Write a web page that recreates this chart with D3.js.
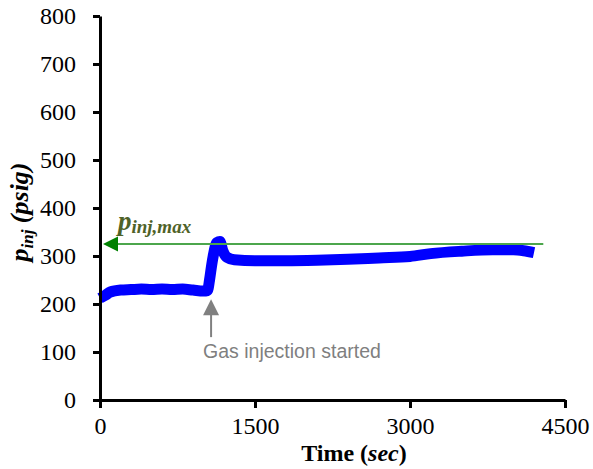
<!DOCTYPE html>
<html>
<head>
<meta charset="utf-8">
<script src="https://cdn.jsdelivr.net/npm/d3@7"></script>
<style>
  body { margin: 0; background: #fff; }
</style>
</head>
<body>
<script>
// injection pressure readings (time in sec, pressure in psig)
const timeSec = [0, 50, 100, 200, 300, 400, 500, 600, 700, 800, 900, 1000, 1040, 1060, 1080, 1100, 1130, 1160,
  1190, 1230, 1300, 1500, 1800, 2100, 2400, 2700, 3000, 3200, 3500, 3800, 4000, 4100, 4200];
const pInj = [212, 218, 225, 229, 230, 231, 230, 231, 230, 231, 229, 227, 228, 250, 280, 305, 328, 330,
  310, 297, 292, 290, 290, 291, 293, 296, 299, 305, 310, 313, 313, 311, 307];

const pInjMax = 325;
const maxLineEnd = 4290;
const gasStart = { t: 1075, top: 210, bottom: 131 };

const xTicks = [0, 1500, 3000, 4500];
const yTicks = [0, 100, 200, 300, 400, 500, 600, 700, 800];

const width = 593, height = 469;
const margin = { top: 16, left: 100, right: 28, bottom: 69 };
const serif = '"Liberation Serif", "Times New Roman", Times, serif';

const svg = d3.select("body").append("svg")
  .attr("width", width)
  .attr("height", height);

const x = d3.scaleLinear().domain([0, 4500]).range([margin.left, width - margin.right]);
const y = d3.scaleLinear().domain([0, 800]).range([height - margin.bottom, margin.top]);

// data line
const data = timeSec.map((t, i) => ({ t: t, p: pInj[i] }));
const line = d3.line().x(d => x(d.t)).y(d => y(d.p)).curve(d3.curveMonotoneX);

svg.append("path")
  .datum(data)
  .attr("d", line)
  .attr("fill", "none")
  .attr("stroke", "#0000ff")
  .attr("stroke-width", 11)
  .attr("stroke-linejoin", "round");

// p_inj,max line with arrow
svg.append("line")
  .attr("x1", x(0) + 10).attr("x2", x(maxLineEnd))
  .attr("y1", y(pInjMax)).attr("y2", y(pInjMax))
  .attr("stroke", "#4ca64c")
  .attr("stroke-width", 2);

svg.append("path")
  .attr("d", `M${x(0) + 3},${y(pInjMax)} l15,-7.5 l0,15 z`)
  .attr("fill", "#008000");

const maxLabel = svg.append("text")
  .attr("x", x(0) + 18)
  .attr("y", y(pInjMax) - 14)
  .style("font-family", serif)
  .style("fill", "#4f6228")
  .style("font-weight", "bold")
  .style("font-style", "italic");
maxLabel.append("tspan").style("font-size", "27px").text("p");
maxLabel.append("tspan").style("font-size", "19px").attr("dy", 3).text("inj,max");

// gas injection annotation
svg.append("line")
  .attr("x1", x(gasStart.t)).attr("x2", x(gasStart.t))
  .attr("y1", y(gasStart.top) + 12).attr("y2", y(gasStart.bottom))
  .attr("stroke", "#808080")
  .attr("stroke-width", 2);

svg.append("path")
  .attr("d", `M${x(gasStart.t)},${y(gasStart.top)} l-8,16 l16,0 z`)
  .attr("fill", "#808080");

svg.append("text")
  .attr("x", x(gasStart.t) - 8)
  .attr("y", y(gasStart.bottom) + 21)
  .style("fill", "#7f7f7f")
  .style("font-family", '"Liberation Sans", Arial, sans-serif')
  .style("font-size", "19.5px")
  .text("Gas injection started");

// axes
const xAxis = svg.append("g")
  .attr("transform", `translate(0,${y(0)})`)
  .call(d3.axisBottom(x).tickValues(xTicks).tickFormat(d3.format("d"))
    .tickSize(8).tickSizeOuter(0).tickPadding(9));

const yAxis = svg.append("g")
  .attr("transform", `translate(${x(0)},0)`)
  .call(d3.axisLeft(y).tickValues(yTicks).tickFormat(d3.format("d"))
    .tickSize(7).tickSizeOuter(0).tickPadding(17));

[xAxis, yAxis].forEach(g => {
  g.attr("font-family", serif).attr("font-size", 24);
  g.select("path.domain").style("stroke", "#000").style("stroke-width", "3px");
  g.selectAll(".tick line").style("stroke", "#000").style("stroke-width", "3px");
  g.selectAll(".tick text")
    .style("font-family", serif)
    .style("fill", "#000")
    .style("font-size", "24px");
});

// axis titles
const xTitle = svg.append("text")
  .attr("x", 354)
  .attr("y", 461)
  .attr("text-anchor", "middle")
  .style("font-family", serif)
  .style("font-weight", "bold")
  .style("font-size", "24px");
xTitle.append("tspan").text("Time (");
xTitle.append("tspan").style("font-style", "italic").text("sec");
xTitle.append("tspan").text(")");

const yTitle = svg.append("text")
  .attr("transform", "translate(28,212) rotate(-90)")
  .attr("text-anchor", "middle")
  .style("font-family", serif)
  .style("font-weight", "bold")
  .style("font-style", "italic")
  .style("font-size", "26px");
yTitle.append("tspan").text("p");
yTitle.append("tspan").style("font-size", "17px").attr("dy", 5).text("inj");
yTitle.append("tspan").attr("dy", -5).text(" (psig)");
</script>
</body>
</html>
